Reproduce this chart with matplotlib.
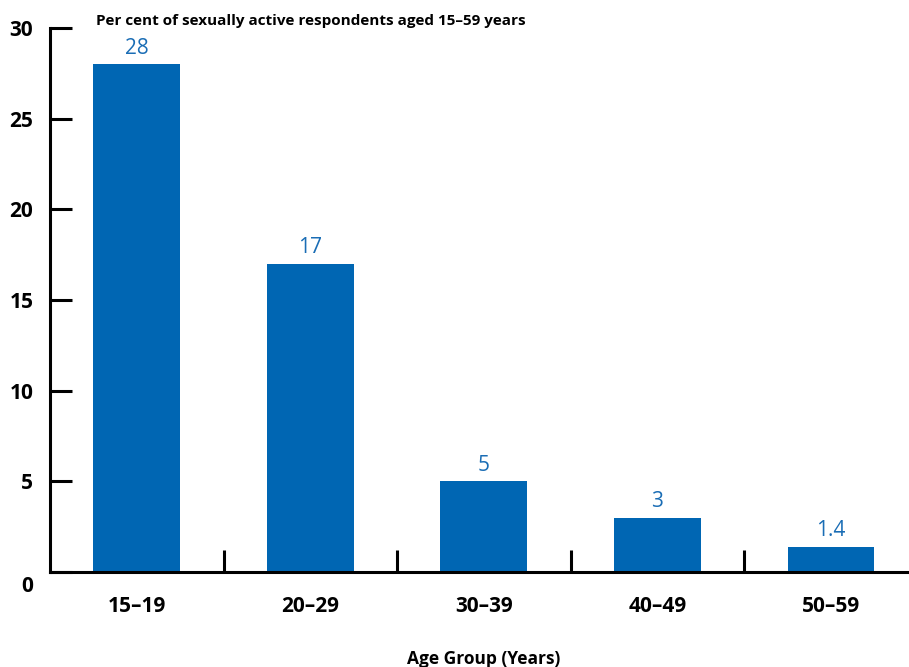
import matplotlib.pyplot as plt
from matplotlib.transforms import ScaledTranslation

# share of sexually active respondents, by age band
age_groups = ['15–19', '20–29', '30–39', '40–49', '50–59']
percent = [28, 17, 5, 3, 1.4]
value_labels = ['28', '17', '5', '3', '1.4']
y_ticks = [0, 5, 10, 15, 20, 25, 30]

BAR_BLUE = '#0066b3'
LABEL_BLUE = '#1a6db5'

plt.rcParams['font.family'] = ['Open Sans', 'DejaVu Sans']

fig = plt.figure(figsize=(9.09, 6.67), dpi=100)
ax = fig.add_axes([50 / 909, 95 / 667, 859 / 909, 544 / 667])

x = list(range(len(age_groups)))
bars = ax.bar(x, percent, width=0.5, color=BAR_BLUE, zorder=2)

for b, txt in zip(bars, value_labels):
    ax.annotate(txt, (b.get_x() + b.get_width() / 2, b.get_height()),
                xytext=(0, 4), textcoords='offset points',
                ha='center', va='bottom', fontsize=15, color=LABEL_BLUE)

ax.set_xlim(-0.5, 4.45)
ax.set_ylim(0, 30)

ax.spines['top'].set_visible(False)
ax.spines['right'].set_visible(False)
for s in ('left', 'bottom'):
    ax.spines[s].set_linewidth(2.2)
    ax.spines[s].set_color('black')

ax.set_yticks(y_ticks)
ax.set_yticklabels([str(v) for v in y_ticks], fontsize=15, fontweight='bold')
ax.tick_params(axis='y', direction='in', length=16, width=2.2, pad=12)

# the zero label sits a little below the baseline
zero_lbl = ax.get_yticklabels()[0]
zero_lbl.set_transform(zero_lbl.get_transform() +
                       ScaledTranslation(0, -12 / 100, fig.dpi_scale_trans))

# category labels centred under bars, separator ticks between them
ax.set_xticks(x)
ax.set_xticklabels(age_groups, fontsize=15, fontweight='bold')
ax.tick_params(axis='x', which='major', length=0, pad=17)
ax.set_xticks([0.5, 1.5, 2.5, 3.5], minor=True)
ax.tick_params(axis='x', which='minor', direction='in', length=16, width=2.2)

ax.set_xlabel('Age Group (Years)', fontsize=12.5, fontweight='bold')
ax.xaxis.set_label_coords((484 - 50) / 859, -78 / 544)

fig.text(96 / 909, 1 - 21 / 667, 'Per cent of sexually active respondents aged 15–59 years',
         fontsize=11, fontweight='bold', va='center', ha='left')

fig.savefig('out.png', dpi=100)
